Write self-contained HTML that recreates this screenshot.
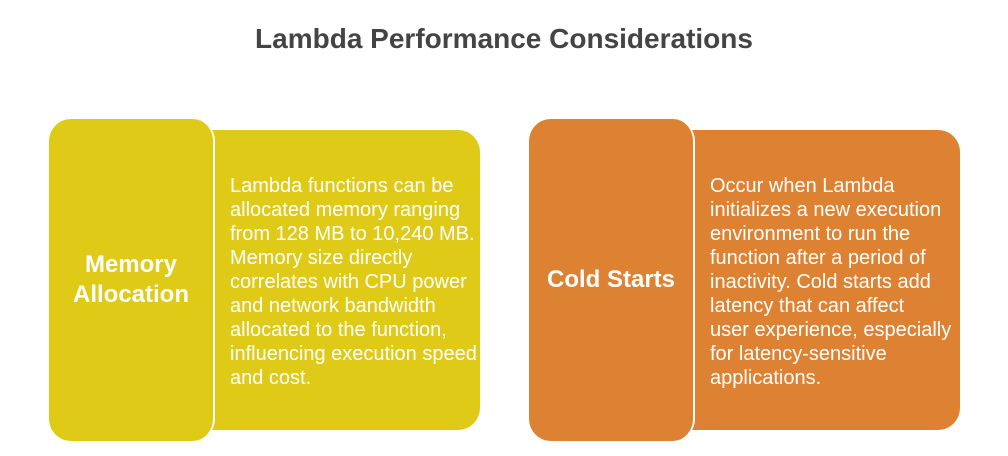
<!DOCTYPE html>
<html><head><style>
body{margin:0;width:1008px;height:456px;background:#fff;position:relative;font-family:"Liberation Sans",Arial,sans-serif;overflow:hidden}
.t{position:absolute;top:23px;left:0;width:1008px;text-align:center;font-size:28px;font-weight:bold;color:#444}
.back{position:absolute;top:130px;height:300px;border-radius:0 22px 22px 0}
.tab{position:absolute;top:119px;width:166px;height:322px;border-radius:22px;box-sizing:border-box;border-right:2px solid #fff;display:flex;align-items:center;justify-content:center;text-align:center;color:#fff;font-weight:bold;font-size:24px;line-height:30px}
.txt{position:absolute;top:174px;color:#fff;font-size:20px;line-height:24px;white-space:nowrap}
</style></head><body>
<div class="t">Lambda Performance Considerations</div>
<div class="back" style="left:200px;width:280px;background:#dfcb17"></div>
<div class="tab" style="left:49px;background:#dfcb17">Memory<br>Allocation</div>
<div class="txt" style="left:230px">Lambda functions can be<br>allocated memory ranging<br>from 128 MB to 10,240 MB.<br>Memory size directly<br>correlates with CPU power<br>and network bandwidth<br>allocated to the function,<br>influencing execution speed<br>and cost.</div>
<div class="back" style="left:680px;width:280px;background:#dd8232"></div>
<div class="tab" style="left:529px;background:#dd8232">Cold Starts</div>
<div class="txt" style="left:710px">Occur when Lambda<br>initializes a new execution<br>environment to run the<br>function after a period of<br>inactivity. Cold starts add<br>latency that can affect<br>user experience, especially<br>for latency-sensitive<br>applications.</div>
</body></html>
